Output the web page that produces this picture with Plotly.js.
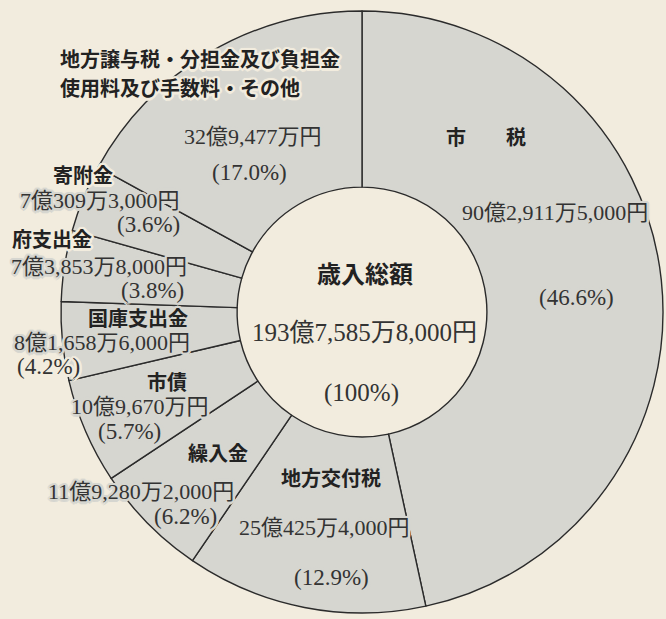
<!DOCTYPE html>
<html>
<head>
<meta charset="utf-8">
<script src="https://cdn.plot.ly/plotly-3.0.1.min.js"></script>
<style>
html,body{margin:0;padding:0;background:#f2ecde;}
#chart{width:666px;height:619px;}
</style>
</head>
<body>
<div id="chart"></div>
<script>
// Data (values in 万円), clockwise from 12 o'clock
const categories = ["市税", "地方交付税", "繰入金", "市債", "国庫支出金", "府支出金", "寄附金", "地方譲与税・分担金及び負担金・使用料及び手数料・その他"];
const values = [902911.5, 250425.4, 119280.2, 109670, 81658.6, 73853.8, 70309.3, 329477];
const nameLabels = ["市　　税", "地方交付税", "繰入金", "市債", "国庫支出金", "府支出金", "寄附金", "地方譲与税・分担金及び負担金"];
const nameLabel2 = "使用料及び手数料・その他";
const amountLabels = ["90億2,911万5,000円", "25億425万4,000円", "11億9,280万2,000円", "10億9,670万円", "8億1,658万6,000円", "7億3,853万8,000円", "7億309万3,000円", "32億9,477万円"];
const percentLabels = ["(46.6%)", "(12.9%)", "(6.2%)", "(5.7%)", "(4.2%)", "(3.8%)", "(3.6%)", "(17.0%)"];
const totalName = "歳入総額";
const totalAmount = "193億7,585万8,000円";
const totalPercent = "(100%)";

// Layout (pixels in the 666x619 frame). halo: 'o' = on beige, 'i' = on gray
const W = 666, H = 619;
const namePos = [[486,137,'i'],[331,477,'i'],[218,452,'i'],[167,381,'i'],[138,317,'i'],[52,239,'o'],[83,174,'o'],[59,58,'o','left']];
const amountPos = [[555,212,'i'],[324,527,'i'],[141,491,'i'],[140,406,'i'],[102,342,'i'],[99,266,'i'],[100,201,'i'],[253,137,'i']];
const pctPos = [[576,298,'i'],[331,577,'i'],[185,516,'i'],[129,431,'i'],[48,366,'o'],[152,290,'i'],[148,225,'i'],[250,173,'i']];

const BG = "#f2ecde", GRAY = "#d6d6d0";
function halo(c) {
  const s = [];
  for (let k = 0; k < 12; k++) {
    const a = k * Math.PI / 6;
    s.push((2.5 * Math.cos(a)).toFixed(1) + "px " + (2.5 * Math.sin(a)).toFixed(1) + "px 0 " + c);
  }
  s.push("0 0 4px " + c);
  return s.join(", ");
}
const CJK = "Noto Sans CJK JP", SERIF = "Liberation Serif, Noto Sans CJK JP";
const boldFont = {family: CJK, size: 20, color: "#222", weight: 700};
const amtFont = {family: SERIF, size: 22, color: "#333"};
const pctFont = {family: SERIF, size: 23, color: "#333"};

function ann(text, p, font) {
  const f = Object.assign({}, font, {shadow: halo(p[2] === 'o' ? BG : GRAY)});
  return {text: text, x: p[0]/W, y: 1 - p[1]/H, xref: "paper", yref: "paper",
          xanchor: p[3] || "center", yanchor: "middle",
          showarrow: false, font: f, borderpad: 0};
}

const annotations = [];
for (let i = 0; i < categories.length; i++) {
  annotations.push(ann(nameLabels[i], namePos[i], boldFont));
  annotations.push(ann(amountLabels[i], amountPos[i], amtFont));
  annotations.push(ann(percentLabels[i], pctPos[i], pctFont));
}
annotations.push(ann(nameLabel2, [59, 87, 'o', 'left'], boldFont));
annotations.push(ann(totalName, [365, 272, 'o'], Object.assign({}, boldFont, {size: 24})));
annotations.push(ann(totalAmount, [364, 332, 'o'], Object.assign({}, amtFont, {size: 25})));
annotations.push(ann(totalPercent, [361, 393, 'o'], Object.assign({}, pctFont, {size: 25})));

const cx = 362, cy = 312, R = 301;
const trace = {
  type: "pie",
  labels: categories,
  values: values,
  sort: false,
  direction: "clockwise",
  rotation: 0,
  hole: 0.415,
  textinfo: "none",
  hoverinfo: "none",
  showlegend: false,
  marker: {colors: categories.map(() => GRAY), line: {color: "#2b2b2b", width: 1.4}},
  domain: {x: [(cx - R)/W, (cx + R)/W], y: [(H - cy - R)/H, (H - cy + R)/H]}
};

Plotly.newPlot("chart", [trace], {
  width: W, height: H,
  margin: {l: 0, r: 0, t: 0, b: 0},
  paper_bgcolor: BG, plot_bgcolor: BG,
  annotations: annotations
}, {displayModeBar: false, staticPlot: true});
</script>
</body>
</html>
